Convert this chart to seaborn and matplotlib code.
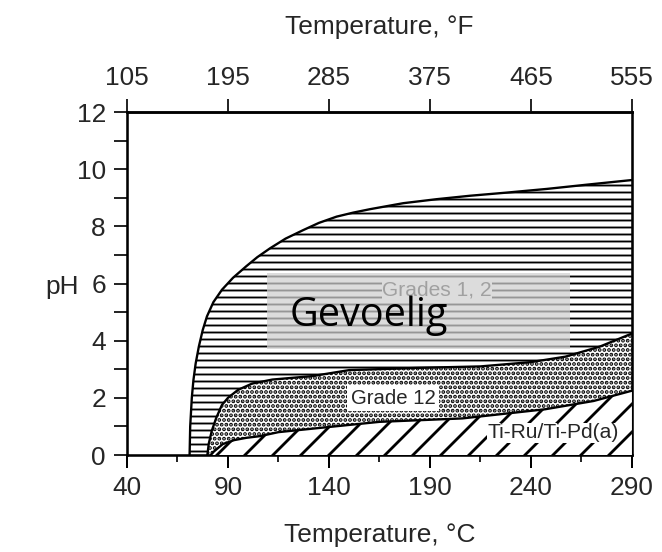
import numpy as np
import pandas as pd
import matplotlib
matplotlib.use("Agg")
import matplotlib.pyplot as plt
import seaborn as sns
from matplotlib.patches import Rectangle

# ---- data ----
grades12_T = [71.0, 71.3, 72.1, 72.9, 74.0, 75.6, 77.5, 79.6, 82.8, 87.0, 92.5, 99, 104.5, 110.8,
              118.5, 127.3, 135, 143.8, 152, 160.3, 176.8, 193.3, 209.8, 228, 248, 268, 290]
grades12_pH = [0, 1.0, 2.0, 2.62, 3.2, 3.8, 4.37, 4.85, 5.35, 5.78, 6.2, 6.6, 6.92, 7.23,
               7.57, 7.87, 8.12, 8.34, 8.48, 8.6, 8.81, 8.95, 9.07, 9.18, 9.31, 9.46, 9.62]

grade12_T = [79.8, 80.5, 82, 84.2, 87, 90, 95, 102, 112, 131.7, 150, 185, 215, 240, 257, 274, 290]
grade12_pH = [0, 0.4, 0.85, 1.3, 1.75, 2.0, 2.28, 2.5, 2.64, 2.76, 2.97, 3.05, 3.1, 3.25, 3.44,
              3.79, 4.25]

tiru_T = [81.5, 83, 87.4, 93, 99, 105.8, 115, 133, 165, 206, 247, 271, 290]
tiru_pH = [0, 0.12, 0.38, 0.52, 0.6, 0.66, 0.8, 0.93, 1.16, 1.28, 1.6, 1.89, 2.25]

xticks_C = [40, 90, 140, 190, 240, 290]
xticks_F = ["105", "195", "285", "375", "465", "555"]
yticks = [0, 2, 4, 6, 8, 10, 12]

DPI = 84
sns.set_style("ticks")
plt.rcParams['font.family'] = ['Liberation Sans', 'DejaVu Sans']
plt.rcParams['hatch.color'] = 'black'

fig = plt.figure(figsize=(662 / DPI, 552 / DPI), dpi=DPI)
ax = fig.add_axes([0.1918, 0.1757, 0.7628, 0.6214])

def region(T, pH, hatch, z, hlw):
    poly_x = list(T) + [T[-1], T[0]]
    poly_y = list(pH) + [0, 0]
    with plt.rc_context({'hatch.linewidth': hlw}):
        ax.fill(poly_x, poly_y, facecolor='white', edgecolor='black', hatch=hatch,
                linewidth=0, zorder=z)
    df = pd.DataFrame({"T": T, "pH": pH})
    sns.lineplot(data=df, x="T", y="pH", ax=ax, color='black', linewidth=2.0,
                 sort=False, estimator=None, zorder=z + 0.5)

region(grades12_T, grades12_pH, '--', 1, 1.6)
region(grade12_T, grade12_pH, '...', 2, 2.3)
region(tiru_T, tiru_pH, '/', 3, 2.4)

# labels
ax.text(193.5, 5.76, "Grades 1, 2", fontsize=18, ha='center', va='center', zorder=4,
        bbox=dict(facecolor='white', edgecolor='none', pad=0.5))
ax.text(171.7, 1.99, "Grade 12", fontsize=17.5, ha='center', va='center', zorder=4,
        bbox=dict(facecolor='white', edgecolor='none', pad=3))
ax.text(251, 0.78, "Ti-Ru/Ti-Pd(a)", fontsize=18, ha='center', va='center', zorder=4,
        bbox=dict(facecolor='white', edgecolor='none', pad=0.5))

# gray overlay box
ax.add_patch(Rectangle((109.5, 3.7), 150.0, 2.68, facecolor=(207/255, 207/255, 207/255),
                       alpha=0.73, edgecolor='none', zorder=5))
ax.text(159.5, 4.52, "Gevoelig", fontsize=34, ha='center', va='baseline', zorder=6,
        family=['Open Sans', 'DejaVu Sans'], color='black')

ax.set_xlim(40, 290)
ax.set_ylim(0, 12)
ax.set_xticks(xticks_C)
ax.set_xticks(np.arange(40, 291, 25), minor=True)
ax.set_yticks(yticks)
ax.set_yticks(np.arange(0, 13, 1), minor=True)
ax.tick_params(axis='x', which='major', labelsize=22.5, width=1.7, length=11, pad=7, direction='out', color='black')
ax.tick_params(axis='x', which='minor', width=1.7, length=6, direction='out')
ax.tick_params(axis='y', which='major', labelsize=22.5, width=1.7, length=11, pad=7, direction='out')
ax.tick_params(axis='y', which='minor', width=1.7, length=11, direction='out')
for s in ax.spines.values():
    s.set_linewidth(2.2)
    s.set_color('black')
    s.set_visible(True)

ax.set_xlabel("Temperature, °C", fontsize=22.5, va='center')
ax.xaxis.set_label_coords(0.5, -0.233)
ax.set_ylabel("pH", fontsize=22.5, rotation=0, ha='center', va='center')
ax.yaxis.set_label_coords(-0.129, 0.49)

top = ax.secondary_xaxis('top')
top.set_xticks(xticks_C)
top.set_xticklabels(xticks_F)
top.tick_params(labelsize=22.5, width=1.7, length=11, pad=8, direction='out')
top.set_xlabel("Temperature, °F", fontsize=22.5, labelpad=27)
top.spines['top'].set_linewidth(2.2)

fig.savefig("out.png", dpi=DPI, facecolor='white')
